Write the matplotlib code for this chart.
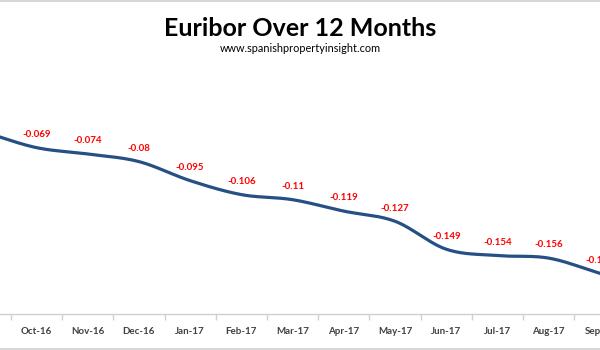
import numpy as np
import matplotlib
matplotlib.use("Agg")
import matplotlib.pyplot as plt
from matplotlib.lines import Line2D

plt.rcParams['font.family'] = ['Lato', 'DejaVu Sans']

months = ["Sep-16", "Oct-16", "Nov-16", "Dec-16", "Jan-17", "Feb-17", "Mar-17",
          "Apr-17", "May-17", "Jun-17", "Jul-17", "Aug-17", "Sep-17"]
euribor = [-0.057, -0.069, -0.074, -0.080, -0.095, -0.106, -0.110,
           -0.119, -0.127, -0.149, -0.154, -0.156, -0.168]

LINE_BLUE = "#254f85"
LABEL_RED = "#ff0000"
AXIS_GREY = "#d0d0d0"


def catmull_rom(x, y, steps=30):
    # smooth curve through every point, like a spreadsheet "smoothed line"
    x = np.asarray(x, float)
    y = np.asarray(y, float)
    px = np.concatenate([[2 * x[0] - x[1]], x, [2 * x[-1] - x[-2]]])
    py = np.concatenate([[2 * y[0] - y[1]], y, [2 * y[-1] - y[-2]]])
    xs, ys = [], []
    t = np.linspace(0, 1, steps, endpoint=False)
    for i in range(1, len(px) - 2):
        for p, out in ((px, xs), (py, ys)):
            p0, p1, p2, p3 = p[i - 1], p[i], p[i + 1], p[i + 2]
            out.append(0.5 * (2 * p1 + (-p0 + p2) * t
                              + (2 * p0 - 5 * p1 + 4 * p2 - p3) * t ** 2
                              + (-p0 + 3 * p1 - 3 * p2 + p3) * t ** 3))
    xs.append([x[-1]])
    ys.append([y[-1]])
    return np.concatenate(xs), np.concatenate(ys)


fig = plt.figure(figsize=(6, 3.5), dpi=100)
ax = fig.add_axes([0, 36 / 350, 1, 254 / 350])

pos = np.arange(len(months))
sx, sy = catmull_rom(pos, euribor)
ax.plot(sx, sy, color=LINE_BLUE, lw=2.3, solid_capstyle="round")

# the first month sits left of the visible window, so it gets no label
for i, v in list(enumerate(euribor))[1:]:
    ax.annotate(f"{v:g}", (pos[i], v), xytext=(0, 9.5), textcoords="offset points",
                ha="center", va="center", color=LABEL_RED, fontsize=7,
                fontweight="bold")

ax.set_xlim(0.288, 11.83)
ax.set_ylim(-0.2, 0)
ax.set_xticks(pos[1:])
ax.set_xticklabels(months[1:], fontsize=7, fontweight="bold", color="#404040")
ax.set_xticks(pos[:-1] + 0.5, minor=True)
ax.tick_params(axis="x", which="major", length=0, pad=9)
ax.tick_params(axis="x", which="minor", length=4, color=AXIS_GREY, width=1)
ax.set_yticks([])
for side in ("top", "left", "right"):
    ax.spines[side].set_visible(False)
ax.spines["bottom"].set_color(AXIS_GREY)
ax.spines["bottom"].set_linewidth(1)

fig.text(0.5, 1 - 29 / 350, "Euribor Over 12 Months", ha="center", va="center",
         fontsize=18, fontweight="bold", color="black")
fig.text(0.5, 1 - 49 / 350, "www.spanishpropertyinsight.com", ha="center",
         va="center", fontsize=7.8, color="black")

# chart frame edges
fig.add_artist(Line2D([0, 1], [0.998, 0.998], color=AXIS_GREY, lw=1.2))
fig.add_artist(Line2D([0, 1], [0.003, 0.003], color=AXIS_GREY, lw=1.2))

fig.savefig("out.png", dpi=100)
